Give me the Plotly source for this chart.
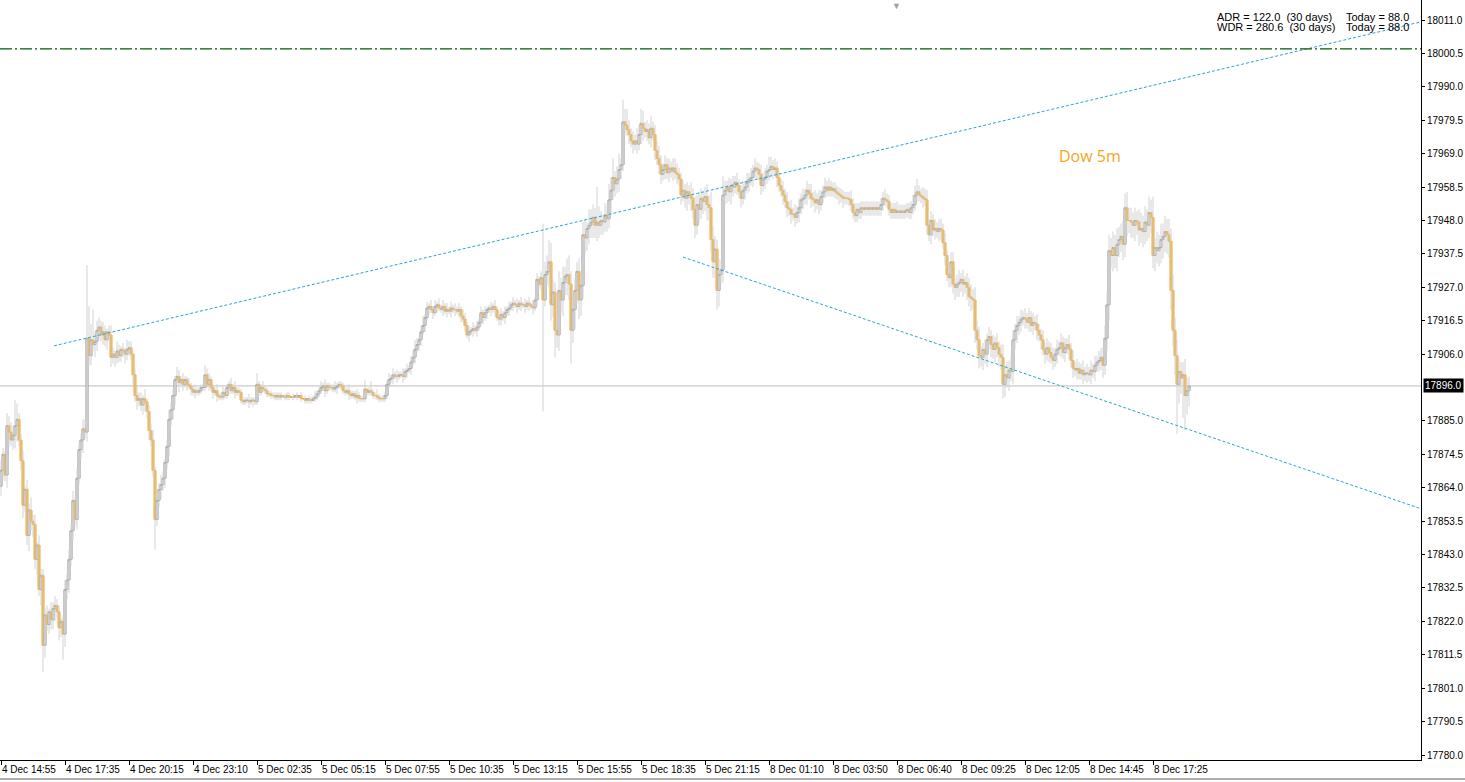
import plotly.graph_objects as go

# ---------------- data ----------------
first_open = 17864.5

close = [
    17869.5, 17874.5, 17868, 17883.5, 17881.5, 17879, 17880.5, 17883.5, 17885.5, 17879,
    17872.5, 17858.5, 17863.5, 17849, 17857, 17853.5, 17852.5, 17841.5, 17846, 17832,
    17836.5, 17814.5, 17824, 17821, 17825, 17822.5, 17826, 17827, 17825, 17820,
    17822, 17818, 17832, 17835, 17841.5, 17850.5, 17860, 17854, 17867, 17876,
    17879, 17882.5, 17881.5, 17911, 17905.5, 17910.5, 17909, 17910, 17913.5, 17914.5,
    17912, 17913, 17910.5, 17913, 17912, 17905, 17906, 17905, 17907, 17905.5,
    17907.5, 17907, 17906, 17907.5, 17908, 17906, 17899.5, 17893, 17891.5, 17892,
    17890, 17892, 17891, 17888, 17882, 17879, 17869.5, 17854, 17860, 17863.5,
    17865, 17867, 17872, 17877, 17885.5, 17888.5, 17893, 17898, 17899, 17897,
    17898, 17896.5, 17898, 17896.5, 17896, 17895, 17894, 17894.5, 17894, 17894.5,
    17895.5, 17895.5, 17899.5, 17896.5, 17898, 17895.5, 17894, 17894.5, 17893, 17892.5,
    17892.5, 17894, 17893, 17895.5, 17896.5, 17894.5, 17895.5, 17894, 17894.5, 17894,
    17891.5, 17891, 17891.5, 17891.5, 17891, 17891.5, 17891.5, 17891, 17896.5, 17894,
    17895.5, 17895, 17894.5, 17893.5, 17893.5, 17893, 17893, 17892.5, 17893, 17892.5,
    17893, 17892.5, 17892.5, 17893, 17892.5, 17892.5, 17892.5, 17893, 17892.5, 17893,
    17892, 17892, 17891.5, 17892, 17891.5, 17891.5, 17892, 17892.5, 17893.5, 17894.5,
    17895.5, 17896, 17894.5, 17896, 17895.5, 17895.5, 17895, 17895.5, 17896, 17896.5,
    17896, 17894.5, 17894, 17894.5, 17893.5, 17893, 17893.5, 17892.5, 17893, 17892,
    17892, 17892, 17895, 17894, 17894.5, 17894, 17893, 17893, 17892.5, 17892,
    17892, 17892, 17893, 17896.5, 17898, 17898.5, 17899.5, 17899, 17899, 17899.5,
    17899.5, 17899, 17900.5, 17901, 17901.5, 17903.5, 17905, 17907.5, 17909, 17910.5,
    17913, 17915, 17917.5, 17920.5, 17921, 17920, 17919, 17921, 17921.5, 17920.5,
    17920, 17921, 17919.5, 17920, 17919.5, 17920.5, 17920, 17920, 17919.5, 17920,
    17918, 17917, 17915, 17912, 17913, 17913.5, 17914, 17913.5, 17914.5, 17916,
    17919, 17917.5, 17919, 17920, 17920.5, 17920, 17921, 17920, 17917.5, 17917,
    17918.5, 17917.5, 17919, 17920, 17920.5, 17921.5, 17922, 17921.5, 17921, 17922,
    17921.5, 17921.5, 17921, 17922, 17921.5, 17921, 17920.5, 17923, 17929.5, 17928,
    17930, 17923, 17931, 17932, 17935, 17921.5, 17925.5, 17913.5, 17912, 17926,
    17923, 17928.5, 17930.5, 17931, 17928, 17913.5, 17920, 17926, 17932, 17923,
    17927.5, 17943.5, 17942.5, 17945.5, 17946.5, 17947.5, 17949, 17946.5, 17947.5, 17946.5,
    17948, 17947.5, 17949.5, 17948.5, 17954.5, 17957.5, 17961.5, 17959.5, 17961, 17964,
    17965.5, 17979, 17978, 17976.5, 17975, 17973, 17972, 17973, 17972, 17975,
    17978.5, 17977, 17976, 17976.5, 17974, 17977, 17975, 17970, 17967.5, 17965.5,
    17962.5, 17964, 17965.5, 17963, 17964.5, 17963.5, 17964.5, 17963, 17962.5, 17961,
    17956, 17957.5, 17955, 17957, 17956, 17955, 17951.5, 17946.5, 17953, 17951.5,
    17955, 17954, 17955.5, 17953, 17952, 17942, 17935, 17939, 17926, 17931,
    17932.5, 17956, 17957.5, 17958.5, 17957, 17959, 17958.5, 17960, 17959, 17957,
    17955, 17957.5, 17958.5, 17960, 17961, 17961.5, 17963.5, 17964.5, 17964, 17962.5,
    17959, 17961, 17961.5, 17963.5, 17964, 17965, 17964, 17964.5, 17961.5, 17959,
    17957.5, 17956, 17954, 17952, 17951.5, 17950, 17950, 17949, 17950.5, 17952,
    17954.5, 17955, 17956, 17957.5, 17956.5, 17955, 17954.5, 17953.5, 17954.5, 17953,
    17955.5, 17957, 17958.5, 17957.5, 17958.5, 17957.5, 17958, 17957, 17956.5, 17956,
    17955.5, 17955, 17955, 17955, 17954.5, 17953, 17950.5, 17949.5, 17951.5, 17950.5,
    17952, 17951.5, 17952, 17951.5, 17952, 17951.5, 17952, 17951.5, 17952, 17951.5,
    17953, 17955, 17954.5, 17954, 17951.5, 17950.5, 17951.5, 17950.5, 17951, 17950.5,
    17951, 17950.5, 17951, 17951.5, 17950.5, 17952, 17953, 17956, 17957, 17956,
    17955.5, 17955, 17954.5, 17946.5, 17943.5, 17948, 17945, 17945.5, 17944.5, 17945.5,
    17945, 17941, 17937, 17931, 17930, 17935, 17928, 17927, 17928, 17928.5,
    17929.5, 17928, 17928.5, 17927, 17924, 17923.5, 17923, 17913.5, 17910.5, 17905.5,
    17905, 17907.5, 17906, 17910.5, 17911.5, 17909, 17907.5, 17909.5, 17908, 17906,
    17905, 17896.5, 17899.5, 17898.5, 17901, 17900.5, 17910.5, 17913.5, 17915, 17916,
    17917, 17917.5, 17917, 17916, 17917.5, 17915, 17916, 17915.5, 17913.5, 17912,
    17910.5, 17907.5, 17906, 17908, 17906.5, 17905, 17904, 17906, 17907.5, 17908,
    17909.5, 17906.5, 17908, 17909, 17907.5, 17904, 17901.5, 17901, 17901.5, 17900,
    17901, 17899.5, 17900, 17900, 17899.5, 17901, 17900.5, 17902.5, 17903.5, 17904,
    17905, 17902.5, 17911, 17921.5, 17938.5, 17937, 17939.5, 17937, 17940.5, 17942,
    17943, 17940.5, 17952, 17948, 17948, 17947.5, 17946.5, 17948, 17947.5, 17945,
    17945.5, 17944.5, 17947.5, 17946.5, 17950.5, 17949, 17937, 17939.5, 17938.5, 17939.5,
    17942, 17943, 17944.5, 17943.5, 17941.5, 17926, 17913.5, 17905.5, 17896.5, 17900.5,
    17898.5, 17899.5, 17893, 17894.5, 17896,
]

# wick lengths in index points beyond the body (one digit per bar)
upper_wick = (
    "3214333852" "2313242313" "2223132322" "1232323132" "2334554333"
    "2321232132" "1213221232" "2131223132" "3212322132" "1211211211"
    "1131211121" "1211121211" "1111211131" "1211111111" "1011101010"
    "1010111211" "2121111211" "1111211121" "1110131121" "1111212121"
    "1212122321" "2312121212" "1212121212" "1221212121" "2121121212"
    "2121212121" "2121212121" "2345464356" "4535645434" "3452544335"
    "3243546245" "2345323243" "3423242334" "3232323332" "2323243434"
    "3234354435" "3232323232" "2323232322" "3232432322" "2323232323"
    "2323232323" "2232322222" "2222232322" "2222222222" "2232222232"
    "2222223332" "2333232323" "3232333234" "2323343434" "3232323232"
    "3434343232" "3232323232" "2323233232" "3232323232" "2323232323"
    "3344545454" "4545443434" "5454545354" "5454545454" "34543"
)
lower_wick = (
    "3324423452" "3423534352" "5342333424" "3243423232" "3423332433"
    "2323232322" "2232223232" "2332322422" "3232323323" "1212121211"
    "1111212121" "1111211211" "1111212111" "1111111111" "1011101010"
    "1011110111" "1121111121" "1111211121" "1111111111" "1111112121"
    "1212121212" "2121212121" "1212121212" "2121212121" "1212121212"
    "2121212121" "2121212121" "2323554545" "4546564646" "5454545454"
    "3434343434" "3232323232" "3423232323" "3232323232" "3234343434"
    "3435445545" "3434343232" "3232323232" "3232323232" "2323232323"
    "2323232323" "2222222223" "2322222222" "2222222222" "2222222222"
    "2222222222" "2323232323" "3232333434" "3434343434" "3434343434"
    "4343434343" "3232323232" "3232323232" "3232323232" "2323232323"
    "3434545454" "4545454545" "4545454545" "5656565656" "56565"
)

# notable spikes (bar index -> extreme price)
spike_high = {43: 17934.0, 44: 17921.0, 46: 17920.0, 103: 17901.5, 128: 17900.0,
              182: 17898.0, 271: 17947.0, 274: 17942.0, 291: 17947.0, 298: 17958.5,
              311: 17986.0, 320: 17983.0, 361: 17962.0, 385: 17968.0, 458: 17961.0,
              562: 17956.5, 574: 17953.5, 576: 17955.5}
spike_low = {21: 17806.0, 31: 17810.0, 77: 17844.5, 271: 17888.0, 277: 17905.0,
             285: 17903.0, 358: 17920.0, 501: 17892.0, 588: 17881.0, 591: 17886.0,
             592: 17882.0}

tick_labels = ["4 Dec 14:55", "4 Dec 17:35", "4 Dec 20:15", "4 Dec 23:10", "5 Dec 02:35",
               "5 Dec 05:15", "5 Dec 07:55", "5 Dec 10:35", "5 Dec 13:15", "5 Dec 15:55",
               "5 Dec 18:35", "5 Dec 21:15", "8 Dec 01:10", "8 Dec 03:50", "8 Dec 06:40",
               "8 Dec 09:25", "8 Dec 12:05", "8 Dec 14:45", "8 Dec 17:25"]
bars_per_label = 32

price_ticks = [18011.0, 18000.5, 17990.0, 17979.5, 17969.0, 17958.5, 17948.0, 17937.5,
               17927.0, 17916.5, 17906.0, 17885.0, 17874.5, 17864.0, 17853.5, 17843.0,
               17832.5, 17822.0, 17811.5, 17801.0, 17790.5, 17780.0]

bid_price = 17896.0
level_line = 18001.9
trend_up_x, trend_up_y = [26.5, 710.5], [17908.6, 18010.5]
trend_dn_x, trend_dn_y = [341.0, 710.5], [17936.5, 17857.3]

adr_text = ("ADR = 122.0  (30 days)", "Today = 88.0")
wdr_text = ("WDR = 280.6  (30 days)", "Today = 88.0")
title_text = "Dow 5m"

# ---------------- build ----------------
n = len(close)
opens = [first_open] + close[:-1]
xs = list(range(n))
body_top = [max(o, c) for o, c in zip(opens, close)]
body_bot = [min(o, c) for o, c in zip(opens, close)]
high = [t + int(u) for t, u in zip(body_top, upper_wick)]
low = [b - int(l) for b, l in zip(body_bot, lower_wick)]
for k, v in spike_high.items():
    high[k] = max(high[k], v)
for k, v in spike_low.items():
    low[k] = min(low[k], v)

wx, wy = [], []
for i in range(n):
    wx += [i, i, None]
    wy += [low[i], high[i], None]

ORANGE = "#f4a623"
fig = go.Figure()
fig.add_trace(go.Scatter(x=wx, y=wy, mode="lines", line=dict(color="#d2d2d2", width=1),
                         hoverinfo="skip", showlegend=False))
fig.add_trace(go.Candlestick(
    x=xs, open=opens, close=close, high=body_top, low=body_bot,
    increasing=dict(line=dict(color="#8e8e8e", width=1), fillcolor="#ffffff"),
    decreasing=dict(line=dict(color=ORANGE, width=1), fillcolor=ORANGE),
    whiskerwidth=0, showlegend=False))

TEAL = "#2aa6cc"
fig.add_trace(go.Scatter(x=trend_up_x, y=trend_up_y, mode="lines",
                         line=dict(color=TEAL, width=1, dash="3px,2px"),
                         hoverinfo="skip", showlegend=False))
fig.add_trace(go.Scatter(x=trend_dn_x, y=trend_dn_y, mode="lines",
                         line=dict(color=TEAL, width=1, dash="3px,2px"),
                         hoverinfo="skip", showlegend=False))

fig.add_shape(type="line", xref="paper", x0=0, x1=1, yref="y", y0=bid_price, y1=bid_price,
              line=dict(color="#bdbdbd", width=1), layer="below")
fig.add_shape(type="line", xref="paper", x0=0, x1=1, yref="y", y0=level_line, y1=level_line,
              line=dict(color="#0a560a", width=1.2, dash="12px,3px,2px,3px"))
# bottom window edge
fig.add_shape(type="line", xref="paper", x0=0, x1=1465 / 1421, yref="paper",
              y0=-19 / 760, y1=-19 / 760, line=dict(color="#606060", width=1))

PW, PH = 1421.0, 760.0
txt_font = dict(family="Liberation Sans, Arial", size=11, color="#000000")
for (left, right), ypx in ((adr_text, 17.5), (wdr_text, 27.0)):
    fig.add_annotation(xref="paper", yref="paper", x=1215 / PW, y=1 - ypx / PH, text=left,
                       showarrow=False, xanchor="left", yanchor="middle", font=txt_font)
    fig.add_annotation(xref="paper", yref="paper", x=1344 / PW, y=1 - ypx / PH, text=right,
                       showarrow=False, xanchor="left", yanchor="middle", font=txt_font)

fig.add_annotation(xref="paper", yref="paper", x=1090 / PW, y=1 - 156 / PH, text=title_text,
                   showarrow=False, xanchor="center", yanchor="middle",
                   font=dict(family="Open Sans, Noto Sans", size=16, color=ORANGE))

fig.add_annotation(xref="paper", yref="y", x=1, y=bid_price, text=f"{bid_price:.1f}",
                   showarrow=False, xanchor="left", yanchor="middle", xshift=2,
                   bgcolor="#000000", borderpad=1,
                   font=dict(family="Liberation Sans, Arial", size=10, color="#ffffff"))

fig.add_annotation(xref="paper", yref="paper", x=896 / PW, y=1, text="▼", showarrow=False,
                   xanchor="center", yanchor="top", yshift=3,
                   font=dict(size=9, color="#a0a0a0"))

axis_font = dict(family="Liberation Sans, Arial", size=10, color="#000000")
fig.update_layout(
    width=1465, height=782,
    margin=dict(l=0, r=44, t=0, b=22),
    paper_bgcolor="#ffffff", plot_bgcolor="#ffffff",
    showlegend=False, hovermode=False, boxgap=0, boxgroupgap=0,
    xaxis=dict(range=[-0.5, 710.0], rangeslider=dict(visible=False),
               tickvals=[i * bars_per_label for i in range(len(tick_labels))],
               ticktext=tick_labels, ticks="outside", ticklen=4, tickcolor="#000000",
               ticklabelposition="outside right",
               showgrid=False, zeroline=False, showline=True, linecolor="#000000",
               linewidth=1, tickfont=axis_font),
    yaxis=dict(range=[17778.44, 18017.29], side="right", tickvals=price_ticks,
               ticktext=[f"{v:.1f}" for v in price_ticks], ticks="outside", ticklen=3,
               tickcolor="#000000", showgrid=False, zeroline=False, showline=True,
               linecolor="#000000", linewidth=1, tickfont=axis_font),
)

fig.write_html("out.html", config={"displayModeBar": False},
               post_script="document.body.style.margin='0';")
